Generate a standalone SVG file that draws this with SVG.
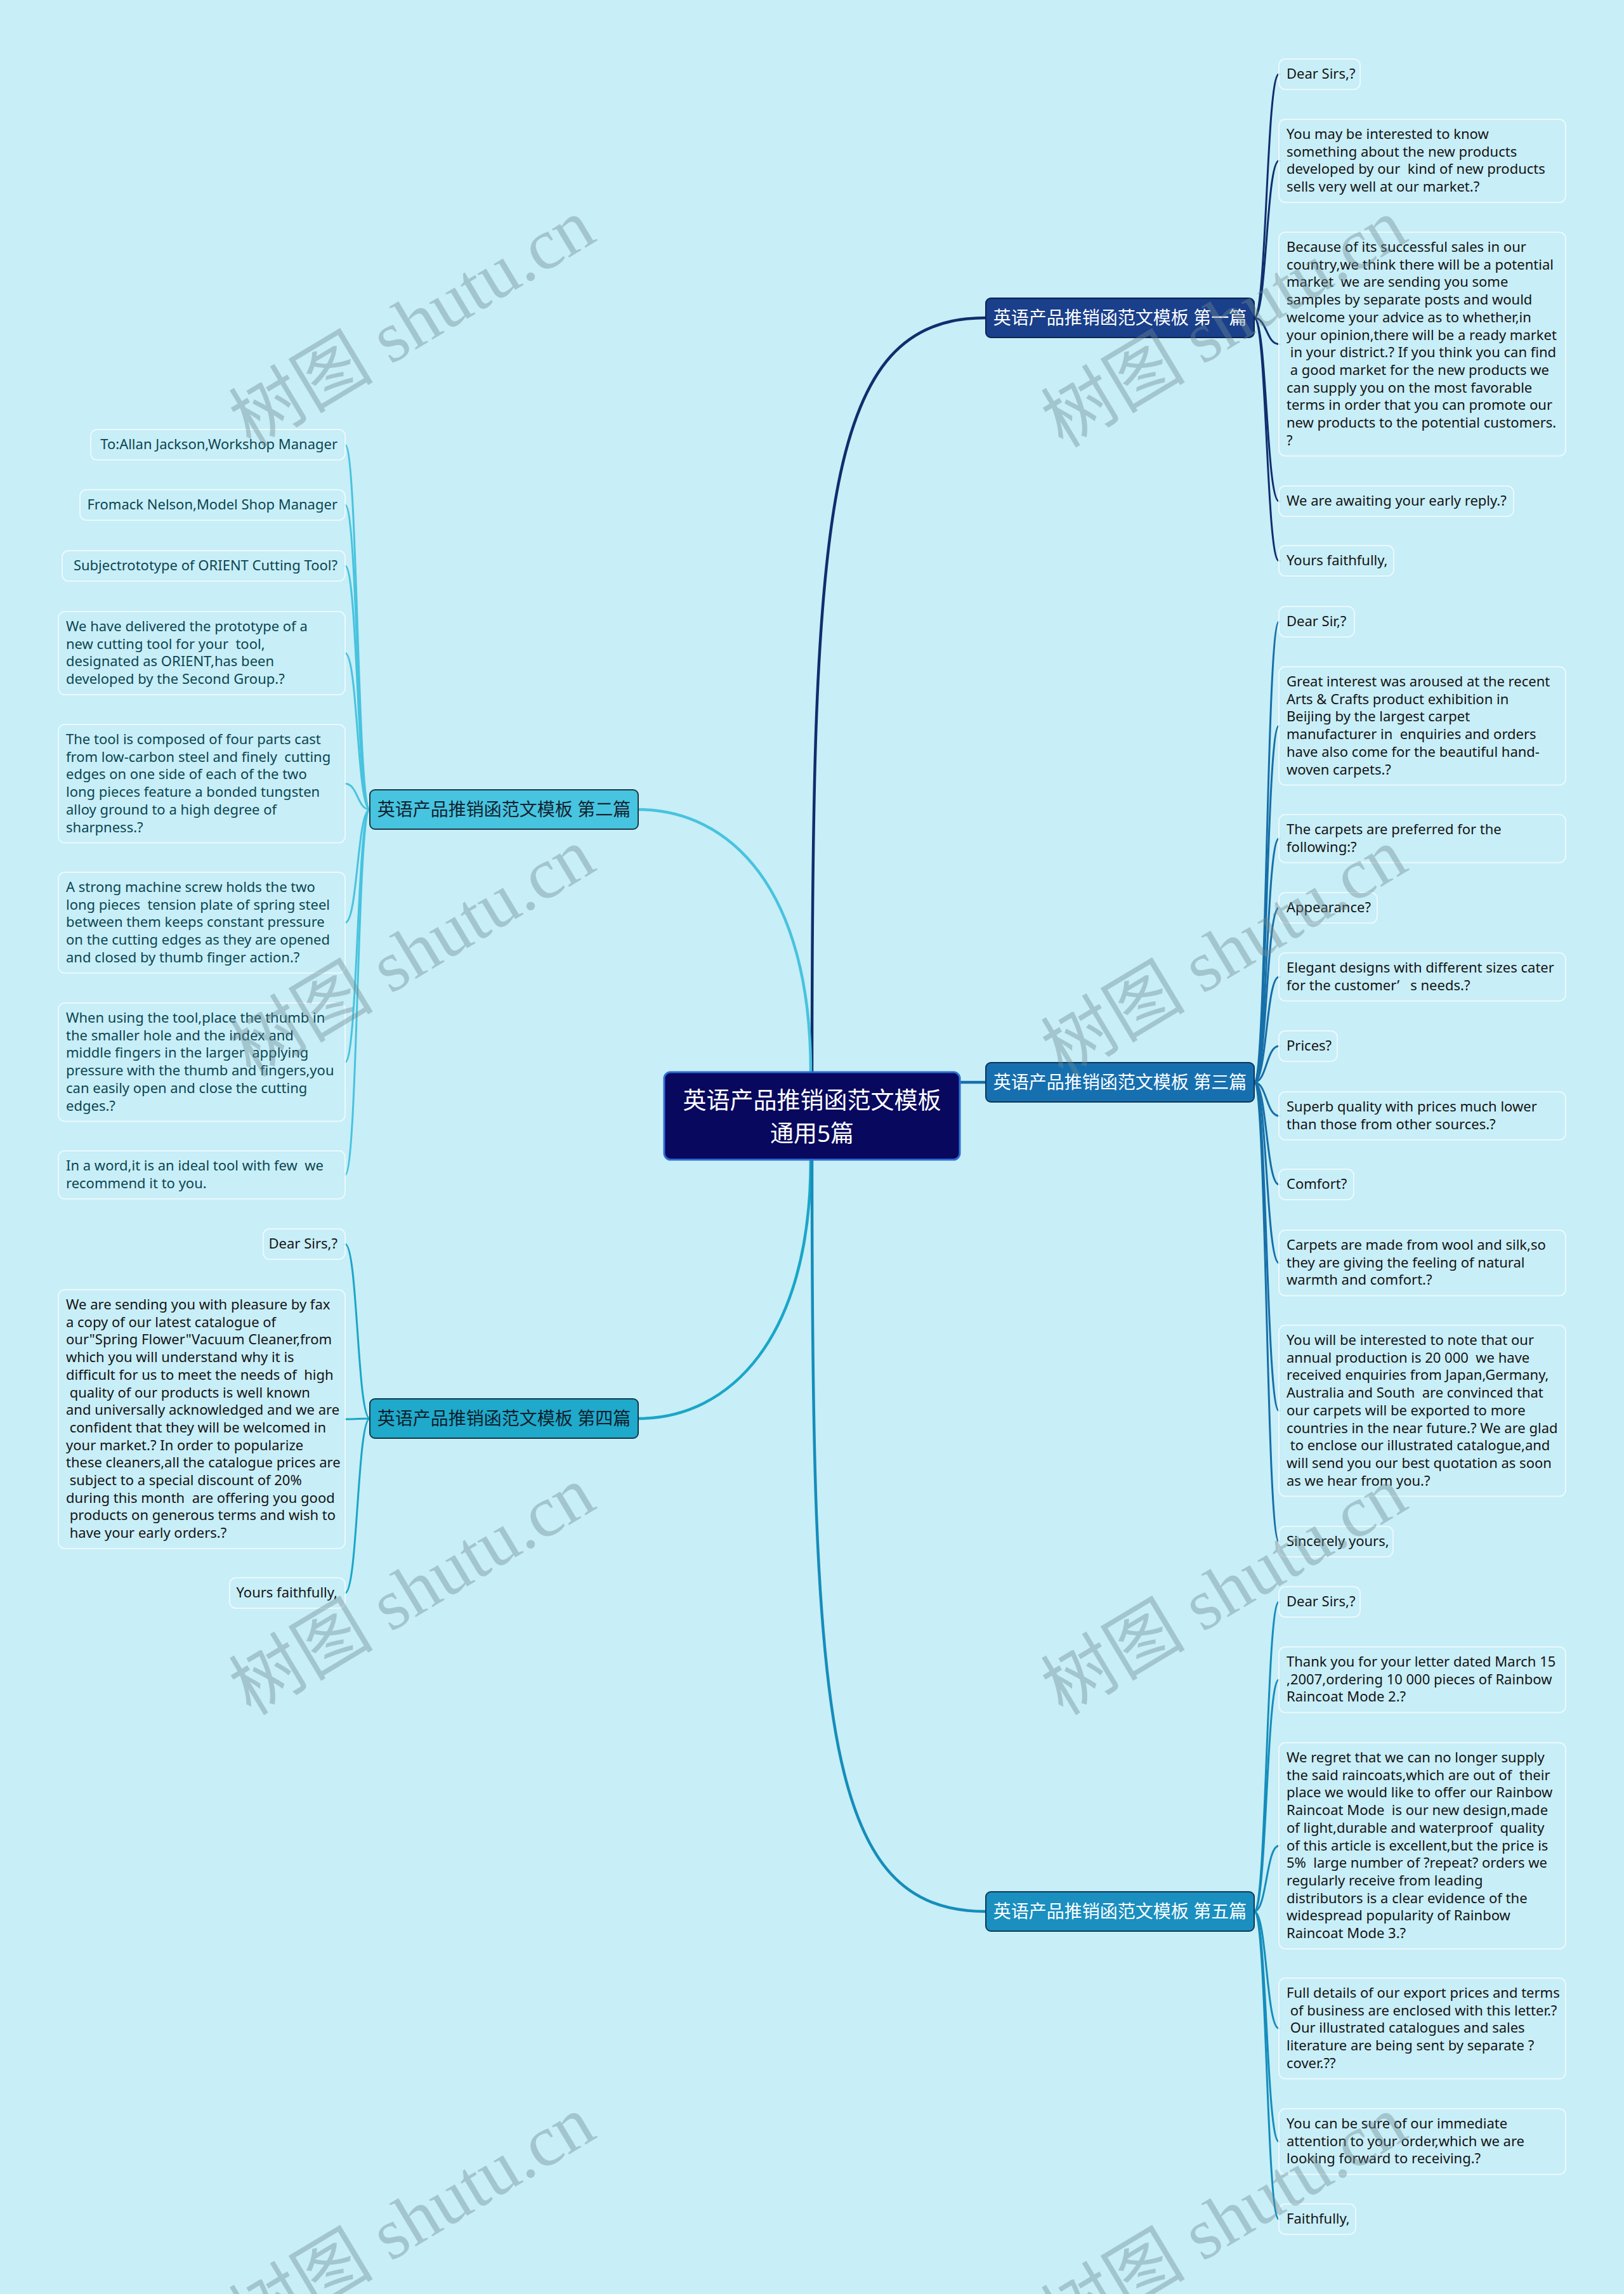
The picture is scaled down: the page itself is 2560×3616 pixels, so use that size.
<svg xmlns="http://www.w3.org/2000/svg" width="2560" height="3616" viewBox="0 0 2560 3616" xml:space="preserve">
<style>
.bg{fill:#c8eef7}
.lf{fill:none;stroke:#eaf9fd;stroke-width:2}
.t{font-family:"Noto Sans","Liberation Sans",sans-serif;font-size:22px;fill:#141414;white-space:pre}
.t2{fill:#0b4651}
.c{fill:none;stroke-linecap:round}
.m{stroke-width:4.5}
.s{stroke-width:3}
.k1{stroke:#0f2e6e}.k2{stroke:#48c3de}.k3{stroke:#166fa8}.k4{stroke:#1aa6c8}.k5{stroke:#158dbb}
.bl{font-family:"Noto Sans","Noto Sans CJK SC",sans-serif;font-size:28px;text-anchor:middle;white-space:pre}
.ct{font-family:"Noto Sans","Noto Sans CJK SC",sans-serif;font-size:37px;fill:#ffffff;text-anchor:middle}
.wm{font-family:"Liberation Serif","Noto Sans CJK SC",serif;font-size:114px;fill:#6e8a92;opacity:0.4;text-anchor:middle}
.er{text-anchor:end}
</style>
<rect class="bg" x="0" y="0" width="2560" height="3616"/>
<g id="connectors">
<path class="c m k1" d="M1280 1690 C1280 800 1300 501 1554 501"/>
<path class="c m k2" d="M1278 1690 C1278 1400 1150 1276 1006 1276"/>
<path class="c m k3" d="M1513 1706 L1554 1706"/>
<path class="c m k4" d="M1278 1828 C1278 2110 1150 2236 1006 2236"/>
<path class="c m k5" d="M1280 1828 C1280 2720 1300 3013 1554 3013"/>
<path class="c s k1" d="M1977 501 C1997 501 1996 117 2016 117"/>
<path class="c s k1" d="M1977 501 C1997 501 1996 253.6 2016 253.6"/>
<path class="c s k1" d="M1977 501 C1997 501 1996 542.4 2016 542.4"/>
<path class="c s k1" d="M1977 501 C1997 501 1996 790 2016 790"/>
<path class="c s k1" d="M1977 501 C1997 501 1996 884 2016 884"/>
<path class="c s k3" d="M1977 1706 C1997 1706 1996 980 2016 980"/>
<path class="c s k3" d="M1977 1706 C1997 1706 1996 1144.3 2016 1144.3"/>
<path class="c s k3" d="M1977 1706 C1997 1706 1996 1321.9 2016 1321.9"/>
<path class="c s k3" d="M1977 1706 C1997 1706 1996 1431 2016 1431"/>
<path class="c s k3" d="M1977 1706 C1997 1706 1996 1539.9 2016 1539.9"/>
<path class="c s k3" d="M1977 1706 C1997 1706 1996 1649 2016 1649"/>
<path class="c s k3" d="M1977 1706 C1997 1706 1996 1758.9 2016 1758.9"/>
<path class="c s k3" d="M1977 1706 C1997 1706 1996 1867 2016 1867"/>
<path class="c s k3" d="M1977 1706 C1997 1706 1996 1990.7 2016 1990.7"/>
<path class="c s k3" d="M1977 1706 C1997 1706 1996 2223.8 2016 2223.8"/>
<path class="c s k3" d="M1977 1706 C1997 1706 1996 2430 2016 2430"/>
<path class="c s k5" d="M1977 3013 C1997 3013 1996 2525 2016 2525"/>
<path class="c s k5" d="M1977 3013 C1997 3013 1996 2647.7 2016 2647.7"/>
<path class="c s k5" d="M1977 3013 C1997 3013 1996 2909.5 2016 2909.5"/>
<path class="c s k5" d="M1977 3013 C1997 3013 1996 3197.4 2016 3197.4"/>
<path class="c s k5" d="M1977 3013 C1997 3013 1996 3375.7 2016 3375.7"/>
<path class="c s k5" d="M1977 3013 C1997 3013 1996 3498 2016 3498"/>
<path class="c s k2" d="M583 1276 C563 1276 564 701 544 701"/>
<path class="c s k2" d="M583 1276 C563 1276 564 796 544 796"/>
<path class="c s k2" d="M583 1276 C563 1276 564 892 544 892"/>
<path class="c s k2" d="M583 1276 C563 1276 564 1029.6 544 1029.6"/>
<path class="c s k2" d="M583 1276 C563 1276 564 1235.3 544 1235.3"/>
<path class="c s k2" d="M583 1276 C563 1276 564 1454.4 544 1454.4"/>
<path class="c s k2" d="M583 1276 C563 1276 564 1674.3 544 1674.3"/>
<path class="c s k2" d="M583 1276 C563 1276 564 1851.9 544 1851.9"/>
<path class="c s k4" d="M583 2236 C563 2236 564 1961 544 1961"/>
<path class="c s k4" d="M583 2236 C563 2236 564 2237 544 2237"/>
<path class="c s k4" d="M583 2236 C563 2236 564 2511 544 2511"/>
</g>
<g id="center">
<rect x="1047" y="1690" width="466" height="138" rx="10" fill="#08085e" stroke="#2f6fd6" stroke-width="3"/>
<text class="ct" x="1280" y="1748">英语产品推销函范文模板</text>
<text class="ct" x="1280" y="1800">通用5篇</text>
</g>
<g id="b1">
<rect x="1554" y="470" width="423" height="62" rx="8" fill="#1a3f8b" stroke="#0c2250" stroke-width="2"/>
<text class="bl" x="1765.5" y="511" fill="#ffffff">英语产品推销函范文模板 第一篇</text>
</g>
<g id="b2">
<rect x="583" y="1245" width="423" height="62" rx="8" fill="#47c4df" stroke="#1c3a48" stroke-width="2"/>
<text class="bl" x="794.5" y="1286" fill="#122230">英语产品推销函范文模板 第二篇</text>
</g>
<g id="b3">
<rect x="1554" y="1675" width="423" height="62" rx="8" fill="#1670b0" stroke="#0e3458" stroke-width="2"/>
<text class="bl" x="1765.5" y="1716" fill="#ffffff">英语产品推销函范文模板 第三篇</text>
</g>
<g id="b4">
<rect x="583" y="2205" width="423" height="62" rx="8" fill="#1fa9cb" stroke="#123848" stroke-width="2"/>
<text class="bl" x="794.5" y="2246" fill="#0d1f2b">英语产品推销函范文模板 第四篇</text>
</g>
<g id="b5">
<rect x="1554" y="2982" width="423" height="62" rx="8" fill="#1a8fc0" stroke="#0f3a54" stroke-width="2"/>
<text class="bl" x="1765.5" y="3023" fill="#ffffff">英语产品推销函范文模板 第五篇</text>
</g>
<g id="l1a"><rect class="lf" x="2016" y="93" width="128" height="48" rx="10"/><text class="t" x="2028" y="124">Dear Sirs,?</text></g>
<g id="l1b"><rect class="lf" x="2016" y="188" width="452" height="131.1" rx="10"/>
<text class="t" x="2028" y="219">You may be interested to know</text>
<text class="t" x="2028" y="246.7">something about the new products</text>
<text class="t" x="2028" y="274.4">developed by our  kind of new products</text>
<text class="t" x="2028" y="302.1">sells very well at our market.?</text></g>
<g id="l1c"><rect class="lf" x="2016" y="366" width="452" height="352.7" rx="10"/>
<text class="t" x="2028" y="397">Because of its successful sales in our</text>
<text class="t" x="2028" y="424.7">country,we think there will be a potential</text>
<text class="t" x="2028" y="452.4">market  we are sending you some</text>
<text class="t" x="2028" y="480.1">samples by separate posts and would</text>
<text class="t" x="2028" y="507.8">welcome your advice as to whether,in</text>
<text class="t" x="2028" y="535.5">your opinion,there will be a ready market</text>
<text class="t" x="2028" y="563.2"> in your district.? If you think you can find</text>
<text class="t" x="2028" y="590.9"> a good market for the new products we</text>
<text class="t" x="2028" y="618.6">can supply you on the most favorable</text>
<text class="t" x="2028" y="646.3">terms in order that you can promote our</text>
<text class="t" x="2028" y="674">new products to the potential customers.</text>
<text class="t" x="2028" y="701.7">?</text></g>
<g id="l1d"><rect class="lf" x="2016" y="766" width="370" height="48" rx="10"/><text class="t" x="2028" y="797">We are awaiting your early reply.?</text></g>
<g id="l1e"><rect class="lf" x="2016" y="860" width="181" height="48" rx="10"/><text class="t" x="2028" y="891">Yours faithfully,</text></g>
<g id="l3a"><rect class="lf" x="2016" y="956" width="119" height="48" rx="10"/><text class="t" x="2028" y="987">Dear Sir,?</text></g>
<g id="l3b"><rect class="lf" x="2016" y="1051" width="452" height="186.5" rx="10"/>
<text class="t" x="2028" y="1082">Great interest was aroused at the recent</text>
<text class="t" x="2028" y="1109.7">Arts &amp; Crafts product exhibition in</text>
<text class="t" x="2028" y="1137.4">Beijing by the largest carpet</text>
<text class="t" x="2028" y="1165.1">manufacturer in  enquiries and orders</text>
<text class="t" x="2028" y="1192.8">have also come for the beautiful hand-</text>
<text class="t" x="2028" y="1220.5">woven carpets.?</text></g>
<g id="l3c"><rect class="lf" x="2016" y="1284" width="452" height="75.7" rx="10"/>
<text class="t" x="2028" y="1315">The carpets are preferred for the</text>
<text class="t" x="2028" y="1342.7">following:?</text></g>
<g id="l3d"><rect class="lf" x="2016" y="1407" width="155" height="48" rx="10"/><text class="t" x="2028" y="1438">Appearance?</text></g>
<g id="l3e"><rect class="lf" x="2016" y="1502" width="452" height="75.7" rx="10"/>
<text class="t" x="2028" y="1533">Elegant designs with different sizes cater</text>
<text class="t" x="2028" y="1560.7">for the customer’   s needs.?</text></g>
<g id="l3f"><rect class="lf" x="2016" y="1625" width="92" height="48" rx="10"/><text class="t" x="2028" y="1656">Prices?</text></g>
<g id="l3g"><rect class="lf" x="2016" y="1721" width="452" height="75.7" rx="10"/>
<text class="t" x="2028" y="1752">Superb quality with prices much lower</text>
<text class="t" x="2028" y="1779.7">than those from other sources.?</text></g>
<g id="l3h"><rect class="lf" x="2016" y="1843" width="118" height="48" rx="10"/><text class="t" x="2028" y="1874">Comfort?</text></g>
<g id="l3i"><rect class="lf" x="2016" y="1939" width="452" height="103.4" rx="10"/>
<text class="t" x="2028" y="1970">Carpets are made from wool and silk,so</text>
<text class="t" x="2028" y="1997.7">they are giving the feeling of natural</text>
<text class="t" x="2028" y="2025.4">warmth and comfort.?</text></g>
<g id="l3j"><rect class="lf" x="2016" y="2089" width="452" height="269.6" rx="10"/>
<text class="t" x="2028" y="2120">You will be interested to note that our</text>
<text class="t" x="2028" y="2147.7">annual production is 20 000  we have</text>
<text class="t" x="2028" y="2175.4">received enquiries from Japan,Germany,</text>
<text class="t" x="2028" y="2203.1">Australia and South  are convinced that</text>
<text class="t" x="2028" y="2230.8">our carpets will be exported to more</text>
<text class="t" x="2028" y="2258.5">countries in the near future.? We are glad</text>
<text class="t" x="2028" y="2286.2"> to enclose our illustrated catalogue,and</text>
<text class="t" x="2028" y="2313.9">will send you our best quotation as soon</text>
<text class="t" x="2028" y="2341.6">as we hear from you.?</text></g>
<g id="l3k"><rect class="lf" x="2016" y="2406" width="180" height="48" rx="10"/><text class="t" x="2028" y="2437">Sincerely yours,</text></g>
<g id="l5a"><rect class="lf" x="2016" y="2501" width="128" height="48" rx="10"/><text class="t" x="2028" y="2532">Dear Sirs,?</text></g>
<g id="l5b"><rect class="lf" x="2016" y="2596" width="452" height="103.4" rx="10"/>
<text class="t" x="2028" y="2627">Thank you for your letter dated March 15</text>
<text class="t" x="2028" y="2654.7">,2007,ordering 10 000 pieces of Rainbow</text>
<text class="t" x="2028" y="2682.4">Raincoat Mode 2.?</text></g>
<g id="l5c"><rect class="lf" x="2016" y="2747" width="452" height="325" rx="10"/>
<text class="t" x="2028" y="2778">We regret that we can no longer supply</text>
<text class="t" x="2028" y="2805.7">the said raincoats,which are out of  their</text>
<text class="t" x="2028" y="2833.4">place we would like to offer our Rainbow</text>
<text class="t" x="2028" y="2861.1">Raincoat Mode  is our new design,made</text>
<text class="t" x="2028" y="2888.8">of light,durable and waterproof  quality</text>
<text class="t" x="2028" y="2916.5">of this article is excellent,but the price is</text>
<text class="t" x="2028" y="2944.2">5%  large number of ?repeat? orders we</text>
<text class="t" x="2028" y="2971.9">regularly receive from leading</text>
<text class="t" x="2028" y="2999.6">distributors is a clear evidence of the</text>
<text class="t" x="2028" y="3027.3">widespread popularity of Rainbow</text>
<text class="t" x="2028" y="3055">Raincoat Mode 3.?</text></g>
<g id="l5d"><rect class="lf" x="2016" y="3118" width="452" height="158.8" rx="10"/>
<text class="t" x="2028" y="3149">Full details of our export prices and terms</text>
<text class="t" x="2028" y="3176.7"> of business are enclosed with this letter.?</text>
<text class="t" x="2028" y="3204.4"> Our illustrated catalogues and sales</text>
<text class="t" x="2028" y="3232.1">literature are being sent by separate ?</text>
<text class="t" x="2028" y="3259.8">cover.??</text></g>
<g id="l5e"><rect class="lf" x="2016" y="3324" width="452" height="103.4" rx="10"/>
<text class="t" x="2028" y="3355">You can be sure of our immediate</text>
<text class="t" x="2028" y="3382.7">attention to your order,which we are</text>
<text class="t" x="2028" y="3410.4">looking forward to receiving.?</text></g>
<g id="l5f"><rect class="lf" x="2016" y="3474" width="121" height="48" rx="10"/><text class="t" x="2028" y="3505">Faithfully,</text></g>
<g id="l2a"><rect class="lf" x="143" y="677" width="401" height="48" rx="10"/><text class="t t2 er" x="532" y="708">To:Allan Jackson,Workshop Manager</text></g>
<g id="l2b"><rect class="lf" x="126" y="772" width="418" height="48" rx="10"/><text class="t t2 er" x="532" y="803">Fromack Nelson,Model Shop Manager</text></g>
<g id="l2c"><rect class="lf" x="98" y="868" width="446" height="48" rx="10"/><text class="t t2 er" x="532" y="899">Subjectrototype of ORIENT Cutting Tool?</text></g>
<g id="l2d"><rect class="lf" x="92" y="964" width="452" height="131.1" rx="10"/>
<text class="t t2" x="104" y="995">We have delivered the prototype of a</text>
<text class="t t2" x="104" y="1022.7">new cutting tool for your  tool,</text>
<text class="t t2" x="104" y="1050.4">designated as ORIENT,has been</text>
<text class="t t2" x="104" y="1078.1">developed by the Second Group.?</text></g>
<g id="l2e"><rect class="lf" x="92" y="1142" width="452" height="186.5" rx="10"/>
<text class="t t2" x="104" y="1173">The tool is composed of four parts cast</text>
<text class="t t2" x="104" y="1200.7">from low-carbon steel and finely  cutting</text>
<text class="t t2" x="104" y="1228.4">edges on one side of each of the two</text>
<text class="t t2" x="104" y="1256.1">long pieces feature a bonded tungsten</text>
<text class="t t2" x="104" y="1283.8">alloy ground to a high degree of</text>
<text class="t t2" x="104" y="1311.5">sharpness.?</text></g>
<g id="l2f"><rect class="lf" x="92" y="1375" width="452" height="158.8" rx="10"/>
<text class="t t2" x="104" y="1406">A strong machine screw holds the two</text>
<text class="t t2" x="104" y="1433.7">long pieces  tension plate of spring steel</text>
<text class="t t2" x="104" y="1461.4">between them keeps constant pressure</text>
<text class="t t2" x="104" y="1489.1">on the cutting edges as they are opened</text>
<text class="t t2" x="104" y="1516.8">and closed by thumb finger action.?</text></g>
<g id="l2g"><rect class="lf" x="92" y="1581" width="452" height="186.5" rx="10"/>
<text class="t t2" x="104" y="1612">When using the tool,place the thumb in</text>
<text class="t t2" x="104" y="1639.7">the smaller hole and the index and</text>
<text class="t t2" x="104" y="1667.4">middle fingers in the larger  applying</text>
<text class="t t2" x="104" y="1695.1">pressure with the thumb and fingers,you</text>
<text class="t t2" x="104" y="1722.8">can easily open and close the cutting</text>
<text class="t t2" x="104" y="1750.5">edges.?</text></g>
<g id="l2h"><rect class="lf" x="92" y="1814" width="452" height="75.7" rx="10"/>
<text class="t t2" x="104" y="1845">In a word,it is an ideal tool with few  we</text>
<text class="t t2" x="104" y="1872.7">recommend it to you.</text></g>
<g id="l4a"><rect class="lf" x="415" y="1937" width="129" height="48" rx="10"/><text class="t er" x="532" y="1968">Dear Sirs,?</text></g>
<g id="l4b"><rect class="lf" x="92" y="2033" width="452" height="408" rx="10"/>
<text class="t" x="104" y="2064">We are sending you with pleasure by fax</text>
<text class="t" x="104" y="2091.7">a copy of our latest catalogue of</text>
<text class="t" x="104" y="2119.4">our"Spring Flower"Vacuum Cleaner,from</text>
<text class="t" x="104" y="2147.1">which you will understand why it is</text>
<text class="t" x="104" y="2174.8">difficult for us to meet the needs of  high</text>
<text class="t" x="104" y="2202.5"> quality of our products is well known</text>
<text class="t" x="104" y="2230.2">and universally acknowledged and we are</text>
<text class="t" x="104" y="2257.9"> confident that they will be welcomed in</text>
<text class="t" x="104" y="2285.6">your market.? In order to popularize</text>
<text class="t" x="104" y="2313.3">these cleaners,all the catalogue prices are</text>
<text class="t" x="104" y="2341"> subject to a special discount of 20%</text>
<text class="t" x="104" y="2368.7">during this month  are offering you good</text>
<text class="t" x="104" y="2396.4"> products on generous terms and wish to</text>
<text class="t" x="104" y="2424.1"> have your early orders.?</text></g>
<g id="l4c"><rect class="lf" x="362" y="2487" width="182" height="48" rx="10"/><text class="t er" x="532" y="2518">Yours faithfully,</text></g>
<g id="watermarks">
<text class="wm" transform="translate(650 510) rotate(-31)" y="38">树图 shutu.cn</text>
<text class="wm" transform="translate(650 1502) rotate(-31)" y="38">树图 shutu.cn</text>
<text class="wm" transform="translate(650 2508) rotate(-31)" y="38">树图 shutu.cn</text>
<text class="wm" transform="translate(650 3500) rotate(-31)" y="38">树图 shutu.cn</text>
<text class="wm" transform="translate(1930 510) rotate(-31)" y="38">树图 shutu.cn</text>
<text class="wm" transform="translate(1930 1502) rotate(-31)" y="38">树图 shutu.cn</text>
<text class="wm" transform="translate(1930 2508) rotate(-31)" y="38">树图 shutu.cn</text>
<text class="wm" transform="translate(1930 3500) rotate(-31)" y="38">树图 shutu.cn</text>
</g>
</svg>
